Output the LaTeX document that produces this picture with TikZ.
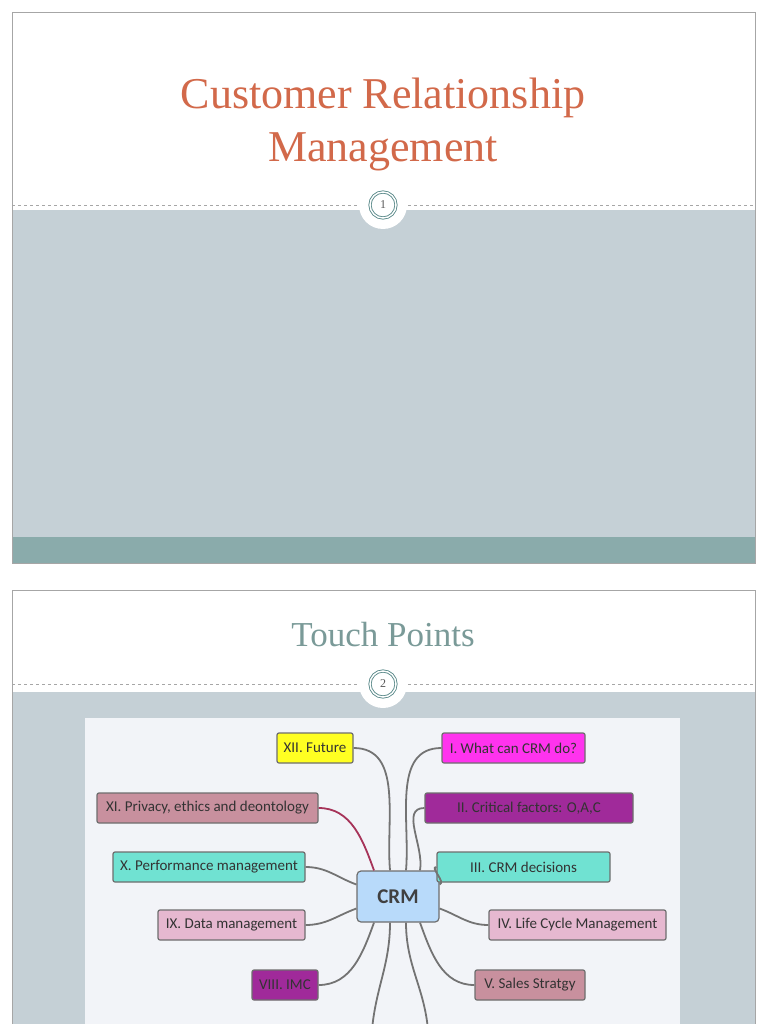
\documentclass[tikz,border=0pt]{standalone}
\usepackage{fontspec}
\newfontfamily\carl{Carlito}
\setmainfont{Liberation Serif}
\begin{document}
\begin{tikzpicture}[x=1pt,y=-1pt,
 box/.style={draw=#1,line width=1.2pt,rounded corners=2pt,minimum height=30pt,inner xsep=5pt,font=\carl\fontsize{15}{15}\selectfont,text=black!80,anchor=center},
 con/.style={draw=black!55,line width=1.8pt},
 num/.style={circle,draw=teal!40!gray,double=white,double distance=1.5pt,line width=0.8pt,minimum size=26pt,fill=white,font=\fontsize{12}{12}\selectfont,text=gray!70!black}]
\useasboundingbox (0,0) rectangle (768,1024);
\fill[white] (0,0) rectangle (768,1024);
\definecolor{slgray}{HTML}{C5D0D6}\definecolor{band}{HTML}{8AABAB}
\definecolor{ttl}{HTML}{D2694A}\definecolor{ttl2}{HTML}{7A9A98}
\definecolor{panel}{HTML}{F2F4F8}
\definecolor{cyel}{HTML}{FFFF22}\definecolor{cmag}{HTML}{FF33EE}
\definecolor{cmau}{HTML}{C8909E}\definecolor{cpur}{HTML}{A02A9A}
\definecolor{ctea}{HTML}{70E2D2}\definecolor{cpin}{HTML}{E6B8D0}
\definecolor{cblu}{HTML}{B8DAFA}\definecolor{bdr}{HTML}{6E6E6E}
% slide 1
\fill[slgray] (12,210) rectangle (755,537);
\fill[band] (12,537) rectangle (755,563);
\draw[gray!70] (12,12) rectangle (755,563);
\draw[dashed,gray!70] (12,205) -- (755,205);
\fill[white] (383,205) circle (24);
\node[num] (n1) at (383,205) {1};
\node[text=ttl,font=\fontsize{44}{53}\selectfont,align=center] (t1) at (383,124) {Customer Relationship\\Management};
% slide 2
\fill[slgray] (12,692) rectangle (755,1024);
\draw[gray!70] (12,1030) -- (12,590) -- (755,590) -- (755,1030);
\draw[dashed,gray!70] (12,684) -- (755,684);
\fill[white] (383,684) circle (24);
\node[num] (n2) at (383,684) {2};
\node[text=ttl2,font=\fontsize{35}{40}\selectfont] (t2) at (383,635) {Touch Points};
\fill[panel] (85,718) rectangle (680,1024);
% mind map
\node[box=bdr,fill=cblu,minimum width=82pt,minimum height=51pt,font=\carl\bfseries\fontsize{21}{21}\selectfont,text=black!75,rounded corners=4pt] (crm) at (398,896.5) {CRM};
\node[box=bdr,fill=cyel,minimum width=76pt] (n12) at (315,748) {XII. Future};
\node[box=bdr,fill=cmag,minimum width=143pt] (n1b) at (513.5,748) {I. What can CRM do?};
\node[box=bdr,fill=cmau,minimum width=221pt] (n11) at (207.5,808) {XI. Privacy, ethics and deontology};
\node[box=bdr,fill=cpur,minimum width=208pt] (n2b) at (529,808) {II. Critical factors: O,A,C};
\node[box=bdr,fill=ctea,minimum width=192pt] (n10) at (209,867) {X. Performance management};
\node[box=bdr,fill=ctea,minimum width=173pt] (n3) at (523.5,867) {III. CRM decisions};
\node[box=bdr,fill=cpin,minimum width=147pt] (n9) at (231.5,925) {IX. Data management};
\node[box=bdr,fill=cpin,minimum width=177pt] (n4) at (577.5,925) {IV. Life Cycle Management};
\node[box=bdr,fill=cpur,minimum width=66pt] (n8) at (285,985) {VIII. IMC};
\node[box=bdr,fill=cmau,minimum width=110pt] (n5) at (530,985) {V. Sales Stratgy};
\coordinate (b1) at (372,1030); \coordinate (b2) at (428,1030);
% connectors
\draw[con] (n12.east) to[out=0,in=95] ([xshift=-8pt]crm.north);
\draw[con] (n1b.west) to[out=180,in=85] ([xshift=8pt]crm.north);
\draw[con,draw=purple!60!gray] (n11.east) to[out=0,in=110] ([xshift=-24pt]crm.north);
\draw[con] (n2b.west) to[out=180,in=80] ([xshift=22pt]crm.north);
\draw[con] (n10.east) to[out=0,in=160] ([yshift=12pt]crm.west);
\draw[con] (n3.west) to[out=180,in=20] ([yshift=12pt]crm.east);
\draw[con] (n9.east) to[out=0,in=200] ([yshift=-12pt]crm.west);
\draw[con] (n4.west) to[out=180,in=-20] ([yshift=-12pt]crm.east);
\draw[con] (n8.east) to[out=0,in=-110] ([xshift=-24pt]crm.south);
\draw[con] (n5.west) to[out=180,in=-70] ([xshift=22pt]crm.south);
\draw[con] (b1) to[out=85,in=-90] ([xshift=-8pt]crm.south);
\draw[con] (b2) to[out=95,in=-90] ([xshift=8pt]crm.south);
\end{tikzpicture}
\end{document}
